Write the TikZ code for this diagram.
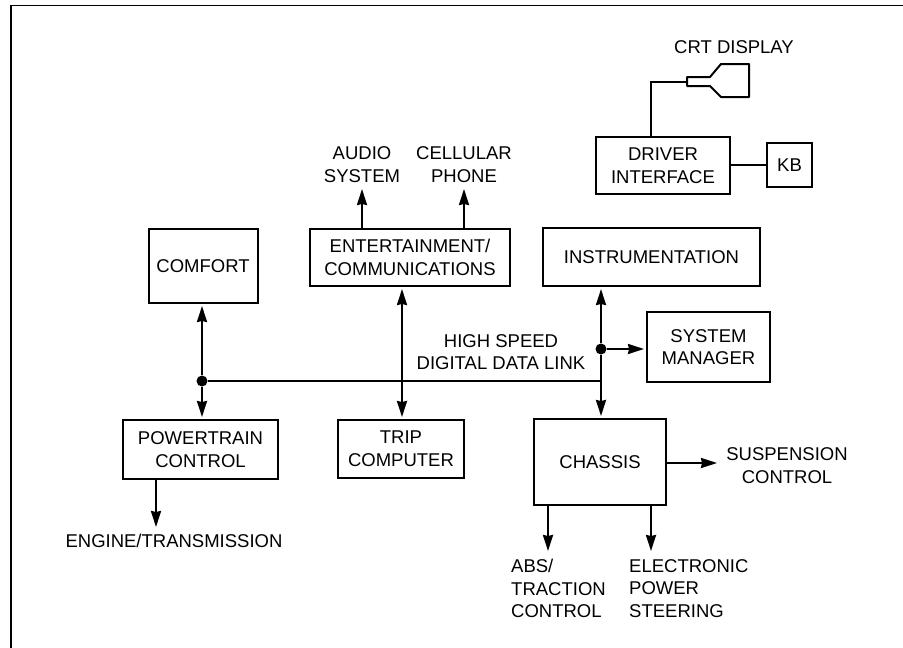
\documentclass[tikz,border=0pt]{standalone}
\usepackage{fontspec}
\setmainfont{Liberation Sans}
\usetikzlibrary{calc, positioning}
\usetikzlibrary{arrows.meta}

\tikzset{
  box/.style={draw=black, line width=2pt, fill=white, inner sep=0pt, align=center},
  label/.style={inner sep=0pt, align=center},
  leftlabel/.style={inner sep=0pt, align=left},
  dot/.style={circle, fill=black, inner sep=0pt, minimum size=11pt},
  wire/.style={line width=2pt},
  oneway/.style={line width=2pt, -{Stealth[length=16pt, width=10pt, inset=1pt]}, shorten >=2pt},
  bothway/.style={line width=2pt, {Stealth[length=16pt, width=10pt, inset=1pt]}-{Stealth[length=16pt, width=10pt, inset=1pt]}, shorten >=2pt, shorten <=2pt}
}

\begin{document}
\begin{tikzpicture}[x=1pt, y=-1pt, font=\fontsize{18.5}{22.6}\selectfont]
\useasboundingbox (0,0) rectangle (903,648);

\draw[line width=1.6pt] (11,648) -- (11,5.5) -- (903,5.5);

\node[box, minimum width=109pt, minimum height=74pt] (comfort) at (203,266) {COMFORT};
\node[box, minimum width=200pt, minimum height=57pt] (entertainment) at (410,257.5) {ENTERTAINMENT/\\COMMUNICATIONS};
\node[box, minimum width=217pt, minimum height=58pt] (instrumentation) at (651.5,257) {INSTRUMENTATION};
\node[box, minimum width=123pt, minimum height=70pt] (manager) at (708.5,347) {SYSTEM\\MANAGER};
\node[box, minimum width=134pt, minimum height=57pt] (driver) at (663,165.5) {DRIVER\\INTERFACE};
\node[box, minimum width=45pt, minimum height=44pt] (kb) at (789.5,165) {KB};
\node[box, minimum width=155pt, minimum height=59pt] (powertrain) at (200.5,449.5) {POWERTRAIN\\CONTROL};
\node[box, minimum width=126pt, minimum height=58pt] (trip) at (401,449) {TRIP\\COMPUTER};
\node[box, minimum width=132pt, minimum height=86pt] (chassis) at (600,462) {CHASSIS};

\node[label] (crtlabel) at (734,47) {CRT DISPLAY};
\node[label] (audio) at (362,164.5) {AUDIO\\SYSTEM};
\node[label] (phone) at (464,164.5) {CELLULAR\\PHONE};
\node[label] (linklabel) at (501,352) {HIGH SPEED\\DIGITAL DATA LINK};
\node[label] (engine) at (174,541) {ENGINE/TRANSMISSION};
\node[label] (suspension) at (787,465.5) {SUSPENSION\\CONTROL};
\node[leftlabel, anchor=west] (abs) at (511,588.5) {ABS/\\TRACTION\\CONTROL};
\node[leftlabel, anchor=west] (steering) at (629,588.5) {ELECTRONIC\\POWER\\STEERING};

\node[dot] (busleft) at (202,381) {};
\node[dot] (busright) at (601,349) {};
\coordinate (busend) at (601,381);
\coordinate (tripx) at (402,381);

\draw[wire] (busleft) -- (busend);
\draw[oneway] (busleft) -- (busleft |- comfort.south);
\draw[oneway] (busleft) -- (busleft |- powertrain.north);
\draw[bothway] (tripx |- entertainment.south) -- (tripx |- trip.north);
\draw[oneway] (busright) -- (busright |- instrumentation.south);
\draw[oneway] (busright) -- (busright |- chassis.north);
\draw[oneway] (busright) -- (busright -| manager.west);

\coordinate (audiotip) at (362,189);
\coordinate (phonetip) at (464,189);
\coordinate (enginetip) at (156,527);
\coordinate (abstip) at (548,551);
\coordinate (steeringtip) at (651,551);
\coordinate (suspensiontip) at (717,463);

\draw[oneway, shorten >=0pt] (audiotip |- entertainment.north) -- (audiotip);
\draw[oneway, shorten >=0pt] (phonetip |- entertainment.north) -- (phonetip);
\draw[oneway, shorten >=0pt] (enginetip |- powertrain.south) -- (enginetip);
\draw[oneway, shorten >=0pt] (abstip |- chassis.south) -- (abstip);
\draw[oneway, shorten >=0pt] (steeringtip |- chassis.south) -- (steeringtip);
\draw[oneway, shorten >=0pt] (suspensiontip -| chassis.east) -- (suspensiontip);

\coordinate (crtneck) at (687,81.5);
\draw[wire, line join=round] (687,77) -- (710,77) -- (721,64) -- (749,64) -- (749,97) -- (721,97) -- (710,86) -- (687,86) -- cycle;
\draw[wire] (651,0 |- driver.north) |- (crtneck);
\draw[wire] (driver.east |- kb.west) -- (kb.west);
\end{tikzpicture}
\end{document}
